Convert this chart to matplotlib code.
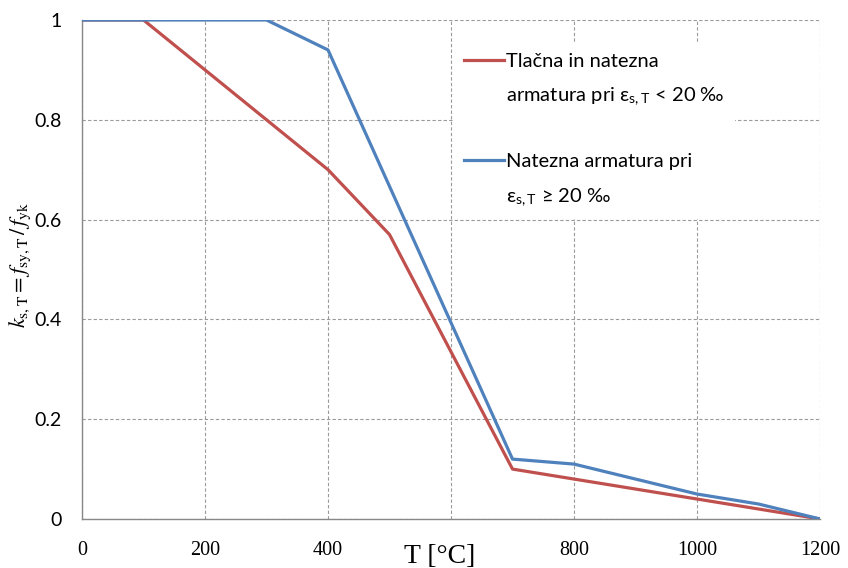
import numpy as np
import matplotlib
matplotlib.use("Agg")
import matplotlib.pyplot as plt

# Data
temp_red = [0, 100, 400, 500, 700, 800, 1200]
ks_red = [1.0, 1.0, 0.7, 0.57, 0.10, 0.08, 0.0]

temp_blue = [0, 300, 400, 700, 800, 1000, 1100, 1200]
ks_blue = [1.0, 1.0, 0.94, 0.12, 0.11, 0.05, 0.03, 0.0]

label_red = "Tlačna in natezna\narmatura pri ε$_\\mathregular{s,T}$ < 20 ‰"
label_blue = "Natezna armatura pri\nε$_\\mathregular{s,T}$ ≥ 20 ‰"

x_ticks = [0, 200, 400, 600, 800, 1000, 1200]
x_ticklabels = ["0", "200", "400", "", "800", "1000", "1200"]
y_ticks = [0, 0.2, 0.4, 0.6, 0.8, 1.0]
y_ticklabels = ["0", "0.2", "0.4", "0.6", "0.8", "1"]

plt.rcParams["mathtext.fontset"] = "stix"

fig = plt.figure(figsize=(8.48, 5.68), dpi=100)
ax = fig.add_axes([0.0967, 0.0863, 0.8703, 0.8785])

ax.plot(temp_red, ks_red, color="#C0504D", lw=2.3, label=label_red, zorder=3)
ax.plot(temp_blue, ks_blue, color="#4F81BD", lw=2.3, label=label_blue, zorder=3)

ax.set_xlim(0, 1200)
ax.set_ylim(0, 1)
ax.set_xticks(x_ticks)
ax.set_xticklabels(x_ticklabels, family="Liberation Serif", fontsize=14.5)
ax.set_yticks(y_ticks)
ax.set_yticklabels(y_ticklabels, family="Lato", fontsize=14)
ax.tick_params(axis="both", length=0)
ax.tick_params(axis="x", pad=16)
ax.tick_params(axis="y", pad=14.5)

ax.grid(True, color="#9a9a9a", linestyle=(0, (3, 2)), linewidth=0.8)
ax.set_axisbelow(True)
for side in ["top", "right"]:
    ax.spines[side].set_visible(False)
for side in ["left", "bottom"]:
    ax.spines[side].set_color("#888888")
    ax.spines[side].set_linewidth(1.0)

ax.set_xlabel("T [°C]", family="Liberation Serif", fontsize=20, labelpad=-12,
              x=0.484)
ax.set_ylabel(r"$k_{\mathrm{s,T}} = f_{\mathrm{sy,T}}\,/\,f_{\mathrm{yk}}$",
              fontsize=16)
ax.yaxis.set_label_coords(-0.067, 0.51)

leg = ax.legend(loc="upper left", bbox_to_anchor=(0.49, 0.975),
                prop={"family": "Lato", "size": 14.5},
                handlelength=2.0, handletextpad=0.1, labelspacing=2.2,
                frameon=True, framealpha=1, edgecolor="none",
                borderpad=0.5, fancybox=False)
leg.get_frame().set_facecolor("white")
for txt in leg.get_texts():
    txt.set_linespacing(2.05)
# put the handle next to the first line of each two-line label
for line in leg.get_lines():
    line.set_ydata(np.array(line.get_ydata()) + 15)

fig.savefig("out.png", dpi=100)
